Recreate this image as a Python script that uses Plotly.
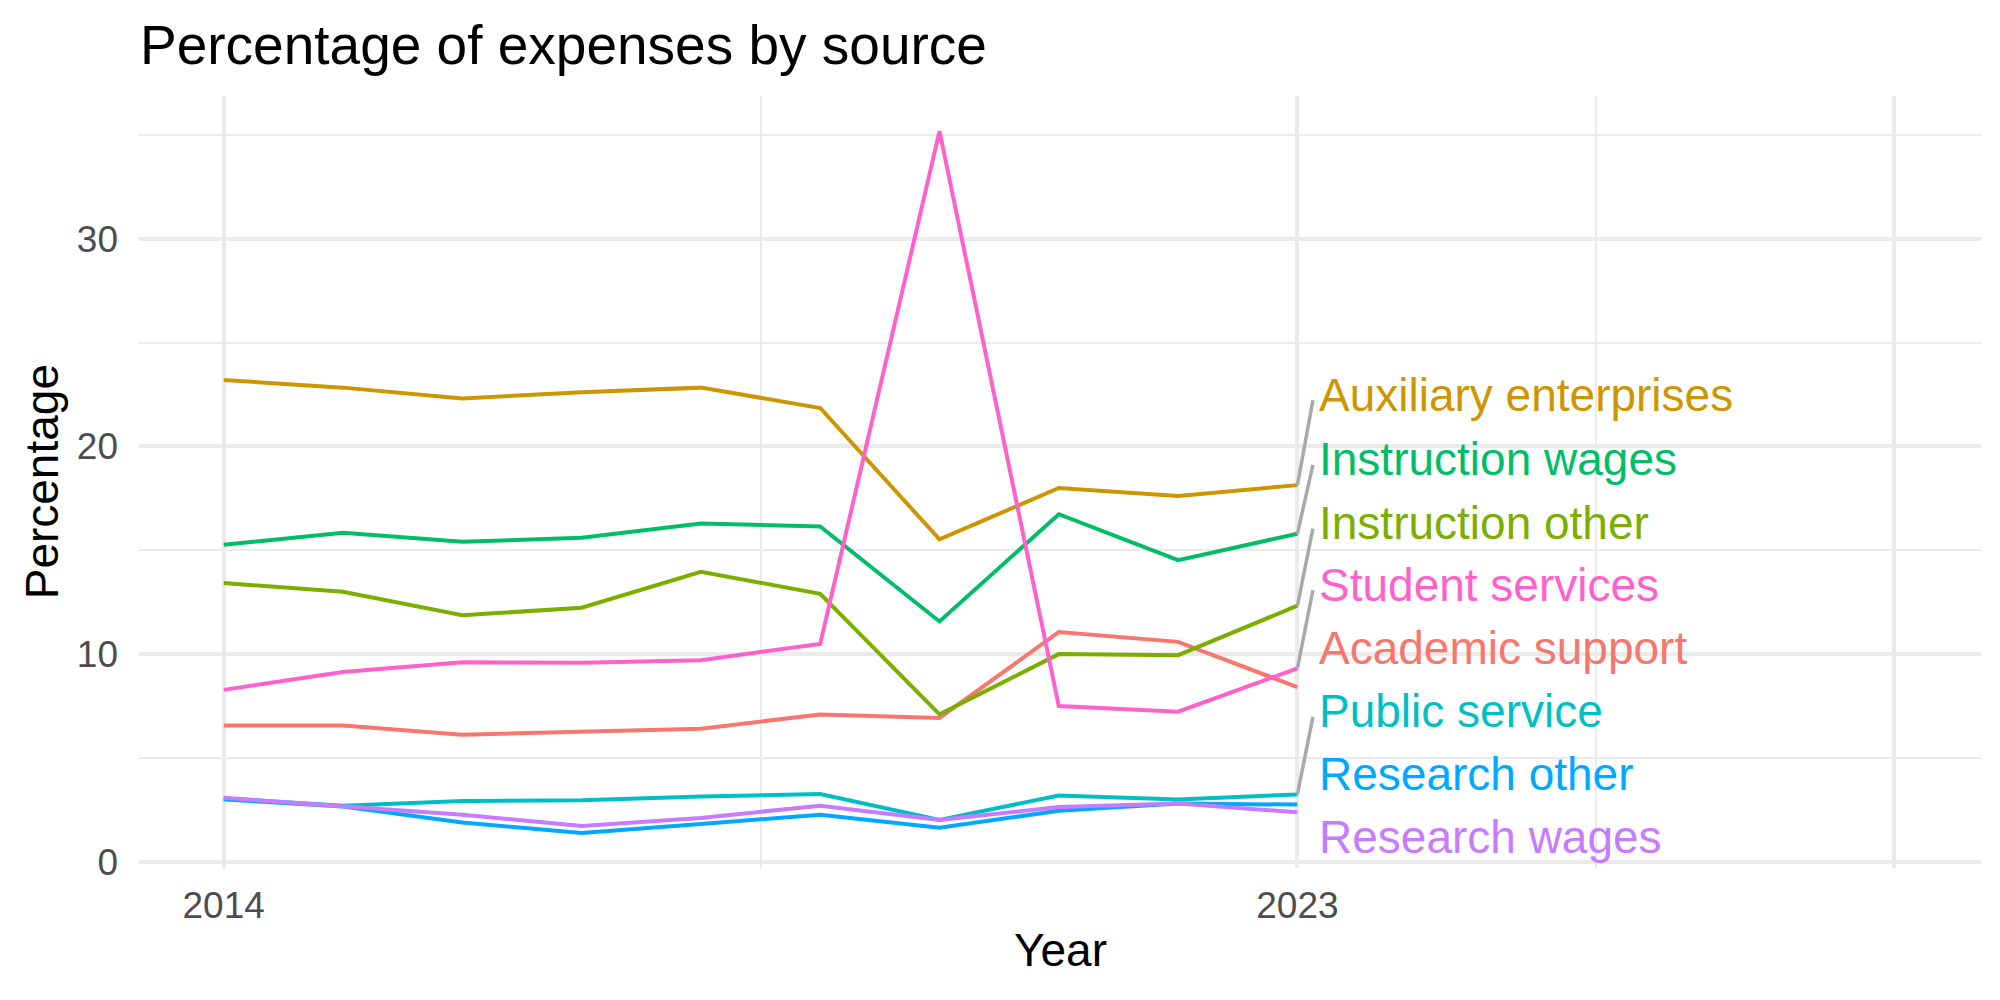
import plotly.graph_objects as go

years = [2014, 2015, 2016, 2017, 2018, 2019, 2020, 2021, 2022, 2023]

categories = ["Academic support", "Auxiliary enterprises", "Instruction other",
              "Instruction wages", "Public service", "Research other",
              "Research wages", "Student services"]

academic_support = [6.57, 6.57, 6.13, 6.26, 6.42, 7.11, 6.94, 11.07, 10.60, 8.42]
auxiliary_enterprises = [23.20, 22.83, 22.31, 22.61, 22.83, 21.85, 15.53, 18.00, 17.62, 18.14]
instruction_other = [13.43, 13.01, 11.88, 12.24, 13.97, 12.91, 7.11, 10.01, 9.96, 12.34]
instruction_wages = [15.27, 15.85, 15.41, 15.61, 16.29, 16.15, 11.58, 16.74, 14.53, 15.80]
public_service = [3.06, 2.72, 2.94, 2.98, 3.16, 3.28, 2.03, 3.21, 3.01, 3.26]
research_other = [3.02, 2.68, 1.91, 1.41, 1.84, 2.28, 1.66, 2.47, 2.82, 2.77]
research_wages = [3.10, 2.68, 2.28, 1.74, 2.13, 2.72, 2.03, 2.65, 2.82, 2.40]
student_services = [8.29, 9.15, 9.62, 9.60, 9.72, 10.50, 35.17, 7.51, 7.24, 9.32]

series = [academic_support, auxiliary_enterprises, instruction_other, instruction_wages,
          public_service, research_other, research_wages, student_services]

colors = ["#F8766D", "#CD9600", "#7CAE00", "#00BE67",
          "#00BFC4", "#00A9FF", "#C77CFF", "#FF61CC"]

# repelled label positions (y, data units) and leader segment tips
label_y = [10.31, 22.46, 16.34, 19.38, 7.29, 4.24, 1.21, 13.35]
segment_tip_y = [None, 22.23, 16.05, 19.11, 6.99, None, None, 13.09]
label_x = 2023.16
segment_tip_x = 2023.13

x_tickvals = [2014, 2023, 2028]
x_ticktext = ["2014", "2023", ""]
x_minor = [2018.5, 2025.5]
y_tickvals = [0, 10, 20, 30]
y_minor = [5, 15, 25, 35]

FONT = "Liberation Sans, Arial, Helvetica, sans-serif"

fig = go.Figure()
for name, vals, col in zip(categories, series, colors):
    fig.add_trace(go.Scatter(x=years, y=vals, mode="lines", name=name,
                             line=dict(color=col, width=4), showlegend=False,
                             hoverinfo="skip"))

for name, vals, tip in zip(categories, series, segment_tip_y):
    if tip is None:
        continue
    fig.add_trace(go.Scatter(x=[years[-1], segment_tip_x], y=[vals[-1], tip],
                             mode="lines", line=dict(color="#A9A9A9", width=3.5),
                             showlegend=False, hoverinfo="skip"))

for name, ly, col in zip(categories, label_y, colors):
    fig.add_annotation(x=label_x, y=ly, xref="x", yref="y", text=name,
                       showarrow=False, xanchor="left", yanchor="middle",
                       font=dict(family=FONT, size=46, color=col))

# axis titles
fig.add_annotation(x=0.5, y=-0.1062, xref="paper", yref="paper", text="Year",
                   showarrow=False, xanchor="center", yanchor="middle",
                   font=dict(family=FONT, size=46, color="black"))
fig.add_annotation(x=-0.0525, y=0.5, xref="paper", yref="paper", text="Percentage",
                   showarrow=False, xanchor="center", yanchor="middle", textangle=-90,
                   font=dict(family=FONT, size=46, color="black"))

fig.update_layout(
    width=2000, height=1000,
    margin=dict(l=139, r=19, t=96, b=132),
    paper_bgcolor="white", plot_bgcolor="white",
    font=dict(family=FONT),
    title=dict(text="Percentage of expenses by source", x=0.07, xref="container",
               xanchor="left", y=0.955, yref="container", yanchor="middle",
               font=dict(family=FONT, size=55, color="black")),
    xaxis=dict(range=[2013.29, 2028.73], tickmode="array", tickvals=x_tickvals,
               ticktext=x_ticktext, showgrid=True, gridcolor="#EBEBEB", gridwidth=3.5,
               zeroline=False, showline=False, ticks="",
               tickfont=dict(family=FONT, size=37, color="#4D4D4D"),
               ticklabelstandoff=12,
               minor=dict(tickmode="array", tickvals=x_minor, showgrid=True,
                          gridcolor="#EBEBEB", gridwidth=1.8)),
    yaxis=dict(range=[-0.28, 36.86], tickmode="array", tickvals=y_tickvals,
               showgrid=True, gridcolor="#EBEBEB", gridwidth=3.5,
               zeroline=False, showline=False, ticks="",
               tickfont=dict(family=FONT, size=37, color="#4D4D4D"),
               ticklabelstandoff=20,
               minor=dict(tickmode="array", tickvals=y_minor, showgrid=True,
                          gridcolor="#EBEBEB", gridwidth=1.8)),
)

fig.write_html("out.html")
